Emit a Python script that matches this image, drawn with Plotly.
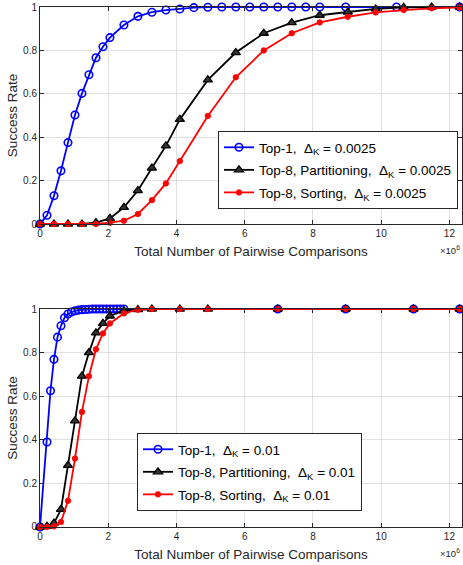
import plotly.graph_objects as go

# ---------------- data (x in units of 10^6 comparisons) ----------------
# Top panel, Delta_K = 0.0025
top_top1_x = [0, 0.205, 0.41, 0.615, 0.82, 1.025, 1.23, 1.435, 1.64, 1.845, 2.05,
              2.46, 2.87, 3.28, 3.69, 4.1, 4.51, 4.92, 5.33, 5.74, 6.15, 6.56, 6.97,
              7.38, 7.79, 8.2, 8.96, 10.45, 12.3]
top_top1_y = [0, 0.04, 0.13, 0.245, 0.375, 0.502, 0.602, 0.688, 0.766, 0.817, 0.859,
              0.917, 0.957, 0.976, 0.986, 0.991, 0.997, 0.999, 1, 1, 1, 1, 1,
              1, 1, 1, 1, 1, 1]
top_top8_x = [0, 0.41, 0.82, 1.23, 1.64, 2.05, 2.46, 2.87, 3.28, 3.69, 4.1, 4.92,
              5.74, 6.56, 7.38, 8.2, 9.02, 9.84, 10.66, 11.48, 12.3]
top_part_y = [0, 0, 0, 0, 0.006, 0.026, 0.077, 0.154, 0.258, 0.36, 0.482, 0.664,
              0.79, 0.879, 0.928, 0.962, 0.977, 0.991, 0.998, 1.0, 1.0]
top_sort_y = [0, 0, 0, 0, 0, 0.006, 0.015, 0.046, 0.11, 0.187, 0.29, 0.498,
              0.676, 0.80, 0.879, 0.929, 0.955, 0.975, 0.986, 0.994, 0.998]

# Bottom panel, Delta_K = 0.01
bot_top1_x = [0, 0.205, 0.3075, 0.41, 0.5125, 0.615, 0.7175, 0.82, 0.9225, 1.025,
              1.1275, 1.23, 1.3325, 1.435, 1.5375, 1.64, 1.7425, 1.845, 1.9475, 2.05,
              2.1525, 2.255, 2.3575, 2.46, 6.97, 8.96, 10.95, 12.3]
bot_top1_y = [0, 0.39, 0.625, 0.769, 0.871, 0.923, 0.96, 0.977, 0.986, 0.992,
              0.995, 0.997, 0.998, 0.999, 1, 1, 1, 1, 1, 1,
              1, 1, 1, 1, 1, 1, 1, 1]
bot_top8_x = [0, 0.205, 0.41, 0.615, 0.82, 1.025, 1.23, 1.435, 1.64, 1.845, 2.05,
              2.46, 2.87, 3.28, 4.1, 4.92, 6.97, 8.96, 10.95, 12.3]
bot_part_y = [0, 0.003, 0.018, 0.081, 0.283, 0.487, 0.692, 0.80, 0.891, 0.934, 0.968,
              0.992, 0.997, 1, 1, 1, 1, 1, 1, 1]
bot_sort_y = [0, 0, 0.003, 0.023, 0.12, 0.314, 0.528, 0.692, 0.815, 0.888, 0.934,
              0.98, 0.997, 1, 1, 1, 1, 1, 1, 1]

x_ticks = [0, 2, 4, 6, 8, 10, 12]
y_ticks = [0, 0.2, 0.4, 0.6, 0.8, 1]
y_tick_labels = ["0", "0.2", "0.4", "0.6", "0.8", "1"]

labels_top = ["Top-1,\u00a0 \u0394<sub>K</sub> = 0.0025",
              "Top-8, Partitioning,\u00a0 \u0394<sub>K</sub> = 0.0025",
              "Top-8, Sorting,\u00a0 \u0394<sub>K</sub> = 0.0025"]
labels_bot = ["Top-1,\u00a0 \u0394<sub>K</sub> = 0.01",
              "Top-8, Partitioning,\u00a0 \u0394<sub>K</sub> = 0.01",
              "Top-8, Sorting,\u00a0 \u0394<sub>K</sub> = 0.01"]

FONT = "Liberation Sans, Arial, sans-serif"
AX = "#262626"

fig = go.Figure()

def add_set(xa, ya, legend, x1, y1, x8, yp, ys, labels, tag):
    fig.add_trace(go.Scatter(
        x=x1, y=y1, mode="lines+markers", name=labels[0], xaxis=xa, yaxis=ya,
        legend=legend, legendgroup=tag + "a", cliponaxis=False,
        line=dict(color="#0000ff", width=1.8),
        marker=dict(symbol="circle-open", size=7.5, color="#0000ff",
                    line=dict(width=1.6, color="#0000ff"))))
    fig.add_trace(go.Scatter(
        x=x8, y=yp, mode="lines+markers", name=labels[1], xaxis=xa, yaxis=ya,
        legend=legend, legendgroup=tag + "b", cliponaxis=False,
        line=dict(color="#000000", width=1.8),
        marker=dict(symbol="triangle-up", size=8, color="#333333",
                    line=dict(width=1.3, color="#000000"))))
    fig.add_trace(go.Scatter(
        x=x8, y=ys, mode="lines+markers", name=labels[2], xaxis=xa, yaxis=ya,
        legend=legend, legendgroup=tag + "c", cliponaxis=False,
        line=dict(color="#ff0000", width=1.8),
        marker=dict(symbol="circle", size=5.5, color="#ff0000",
                    line=dict(width=0.8, color="#ff0000"))))

add_set("x", "y", "legend", top_top1_x, top_top1_y, top_top8_x, top_part_y, top_sort_y, labels_top, "t")
add_set("x2", "y2", "legend2", bot_top1_x, bot_top1_y, bot_top8_x, bot_part_y, bot_sort_y, labels_bot, "b")

xcommon = dict(range=[0, 12.37], tickvals=x_ticks, ticks="inside", ticklen=4,
               tickcolor=AX, showline=True, linecolor=AX, linewidth=1, mirror="ticks",
               showgrid=True, gridcolor="#e0e0e0", gridwidth=1, zeroline=False,
               automargin=False,
               tickfont=dict(family=FONT, size=10, color=AX),
               title=dict(text="Total Number of Pairwise Comparisons",
                          font=dict(family=FONT, size=13.5, color=AX), standoff=8))
ycommon = dict(range=[0, 1], tickvals=y_ticks, ticktext=y_tick_labels, ticks="inside",
               ticklen=4, tickcolor=AX, showline=True, linecolor=AX, linewidth=1,
               mirror="ticks", showgrid=True, gridcolor="#e0e0e0", gridwidth=1,
               zeroline=False, automargin=False,
               tickfont=dict(family=FONT, size=10, color=AX),
               title=dict(text="Success Rate", font=dict(family=FONT, size=13.5, color=AX),
                          standoff=2))

legcommon = dict(bgcolor="white", bordercolor=AX, borderwidth=1,
                 font=dict(family=FONT, size=13.5, color="#000000"),
                 xanchor="right", yanchor="middle", itemwidth=30,
                 traceorder="grouped", tracegroupgap=2)

fig.update_layout(
    width=463, height=565,
    margin=dict(l=40, r=1, t=7, b=38, autoexpand=False),
    paper_bgcolor="white", plot_bgcolor="white",
    xaxis=dict(domain=[0, 1], anchor="y", **xcommon),
    yaxis=dict(domain=[0.5827, 1.0], anchor="x", **ycommon),
    xaxis2=dict(domain=[0, 1], anchor="y2", **xcommon),
    yaxis2=dict(domain=[0, 0.4192], anchor="x2", **ycommon),
    legend=dict(x=0.9905, y=0.6865, **legcommon),
    legend2=dict(x=0.763, y=0.1058, **legcommon),
    showlegend=True,
)

for yref_y in [0.5827, 0.0]:
    fig.add_annotation(text="\u00d710<sup>6</sup>", xref="paper", yref="paper",
                       x=1.0, y=yref_y, xanchor="right", yanchor="top", yshift=-18,
                       xshift=0, showarrow=False,
                       font=dict(family=FONT, size=9.5, color=AX))

fig.write_html(
    "out.html",
    config={"responsive": False, "displayModeBar": False},
    post_script="document.body.style.margin='0';document.body.style.overflow='hidden';",
)
